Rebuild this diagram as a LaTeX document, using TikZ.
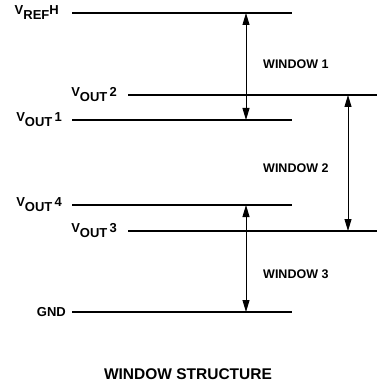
\documentclass[tikz,border=0pt]{standalone}
\usepackage{fontspec}
\setmainfont{Liberation Sans}
\usepackage{tikz}
\usetikzlibrary{arrows.meta}
\tikzstyle{level}=[line width=1.3pt]
\tikzstyle{warrow}=[{Triangle[length=12pt,width=7pt]}-{Triangle[length=12pt,width=7pt]}, line width=0.9pt]
\tikzstyle{vlbl}=[anchor=east, inner sep=0pt, font=\bfseries\fontsize{13}{15}\selectfont]
\tikzstyle{wlbl}=[anchor=west, inner sep=0pt, font=\bfseries\fontsize{12.5}{14}\selectfont]
\newcommand{\vsub}[2]{\raisebox{2pt}{V}\raisebox{-3pt}{#1}\,\raisebox{2pt}{#2}}

\begin{document}
\begin{tikzpicture}[x=1pt,y=-1pt]
\useasboundingbox (0,0) rectangle (377,385);
% level lines
\coordinate (refA) at (72,13);  \coordinate (refB) at (292,13);
\coordinate (o2A) at (128,95);  \coordinate (o2B) at (377,95);
\coordinate (o1A) at (72,120);  \coordinate (o1B) at (292,120);
\coordinate (o4A) at (72,205);  \coordinate (o4B) at (292,205);
\coordinate (o3A) at (128,231); \coordinate (o3B) at (377,231);
\coordinate (gndA) at (72,312); \coordinate (gndB) at (292,312);
\node[vlbl] (vref) at (59,13) {\raisebox{2pt}{V}\raisebox{-3pt}{REF}\raisebox{2pt}{H}};
\node[vlbl] (vo2) at (117,95) {\vsub{OUT}{2}};
\node[vlbl] (vo1) at (62,120) {\vsub{OUT}{1}};
\node[vlbl] (vo4) at (62,205) {\vsub{OUT}{4}};
\node[vlbl] (vo3) at (117,231) {\vsub{OUT}{3}};
\node[vlbl] (gnd) at (66,312) {GND};
\draw[level] (refA) -- (refB);
\draw[level] (o2A) -- (o2B);
\draw[level] (o1A) -- (o1B);
\draw[level] (o4A) -- (o4B);
\draw[level] (o3A) -- (o3B);
\draw[level] (gndA) -- (gndB);
% windows
\coordinate (w1t) at (246,13);  \coordinate (w1b) at (246,120);
\coordinate (w2t) at (348,95);  \coordinate (w2b) at (348,231);
\coordinate (w3t) at (246,205); \coordinate (w3b) at (246,312);
\draw[warrow] (w1t) -- (w1b);
\draw[warrow] (w2t) -- (w2b);
\draw[warrow] (w3t) -- (w3b);
\node[wlbl] (win1) at (263,64) {WINDOW 1};
\node[wlbl] (win2) at (263,168) {WINDOW 2};
\node[wlbl] (win3) at (263,274) {WINDOW 3};
\node[inner sep=0pt, font=\bfseries\fontsize{15.5}{18}\selectfont] (title) at (188,374) {WINDOW STRUCTURE};
\end{tikzpicture}
\end{document}
